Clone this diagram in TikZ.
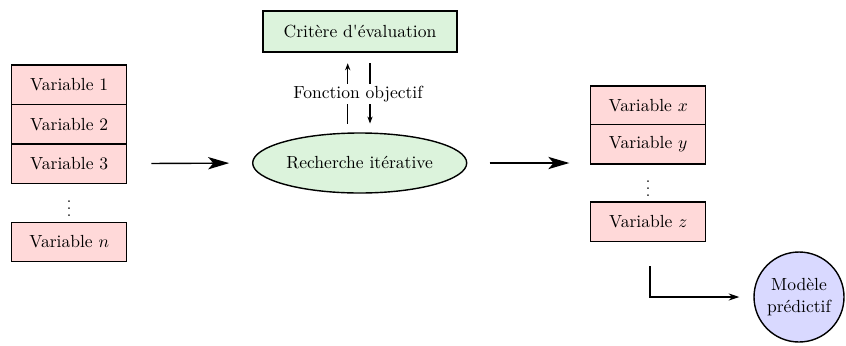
\documentclass[tikz,border=0pt]{standalone}
\usetikzlibrary{arrows.meta,shapes.geometric}
\definecolor{pinkfill}{RGB}{255,217,217}
\definecolor{greenfill}{RGB}{220,243,220}
\definecolor{bluefill}{RGB}{217,217,255}
\begin{document}
\begin{tikzpicture}[x=0.57pt,y=-0.57pt,
  varbox/.style={draw=black, thick, fill=pinkfill, minimum width=65.5pt, minimum height=22.4pt, inner sep=0pt},
  critbox/.style={draw=black, thick, fill=greenfill, minimum width=110.6pt, minimum height=23.4pt, inner sep=0pt},
  searchell/.style={ellipse, draw=black, thick, fill=greenfill, minimum width=122pt, minimum height=34.2pt, inner sep=0pt},
  modelcirc/.style={circle, draw=black, thick, fill=bluefill, minimum size=51.3pt, inner sep=0pt, align=center},
  bigarrow/.style={-{Stealth[length=12pt,width=7pt,inset=3pt]}, thick},
  smallarrow/.style={-{Stealth[length=4pt,width=3pt]}, thick},
  midarrow/.style={-{Stealth[length=6pt,width=4pt]}, thick},
  vdotsnode/.style={inner sep=0pt, font=\small}
]
\useasboundingbox (0,0) rectangle (846,345);

% left column
\node[varbox] (v1) at (69.2,84.7) {Variable 1};
\node[varbox] (v2) at (69.2,124.3) {Variable 2};
\node[varbox] (v3) at (69.2,163.6) {Variable 3};
\node[vdotsnode] (ld) at (69.2,203) {$\vdots$};
\node[varbox] (vn) at (69.2,242) {Variable $n$};

% center
\node[critbox] (crit) at (360,31.5) {Crit\`ere d\textquotesingle\'evaluation};
\node[searchell] (search) at (359.7,163) {Recherche it\'erative};

% right column
\node[varbox] (vx) at (648.2,105.5) {Variable $x$};
\node[varbox] (vy) at (648.2,144.2) {Variable $y$};
\node[vdotsnode] (rd) at (648.2,183) {$\vdots$};
\node[varbox] (vz) at (648.2,221.7) {Variable $z$};

\node[modelcirc] (model) at (799,297) {Mod\`ele\\[1pt]pr\'edictif};

% connectors
\draw[bigarrow, shorten <=13.7pt, shorten >=13pt] (v3.east) -- (search.west);
\draw[bigarrow, shorten <=12.7pt, shorten >=11.8pt] (search.east) -- (search.east -| vy.west);

\draw[smallarrow, shorten <=5pt, shorten >=6pt] ([xshift=-12*0.57pt]search.north) -- ([xshift=-12*0.57pt]search.north |- crit.south);
\draw[smallarrow, shorten <=6pt, shorten >=5pt] ([xshift=10*0.57pt]crit.south) -- ([xshift=10*0.57pt]crit.south |- search.north);
\node[fill=white, inner sep=1pt] (fo) at (358,94) {Fonction objectif};

\coordinate (c1) at (650,266);
\draw[midarrow, shorten >=8pt] (c1) |- (model.west);
\end{tikzpicture}
\end{document}
